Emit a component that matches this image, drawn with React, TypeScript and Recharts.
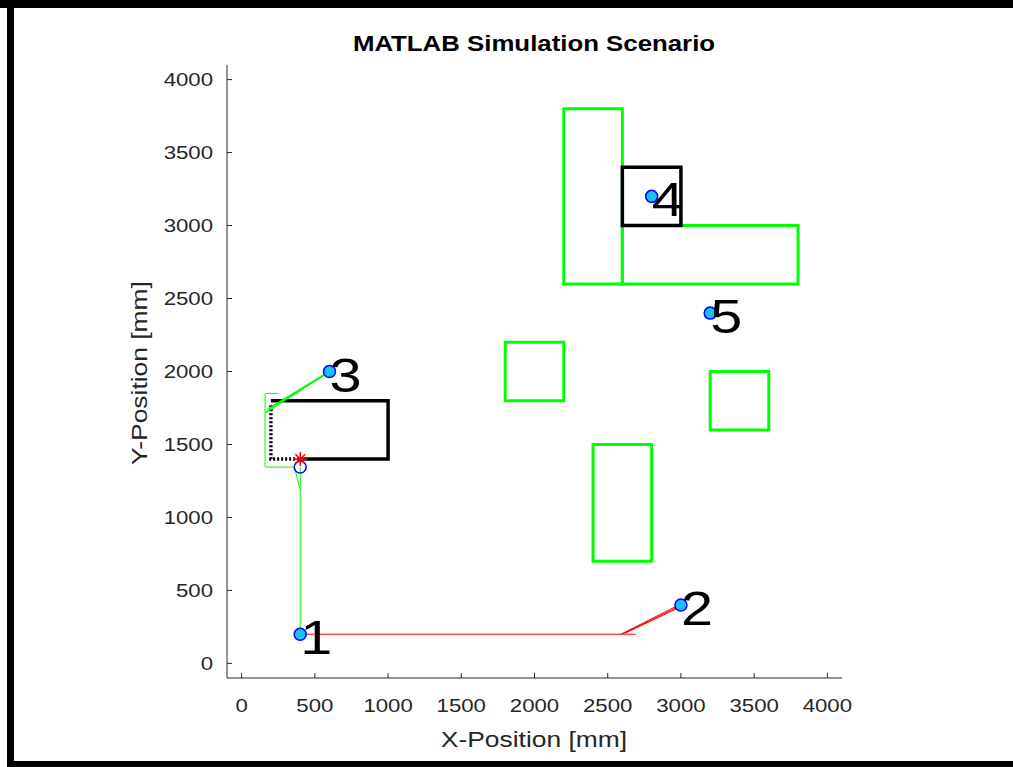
import React from 'react';
import { ComposedChart, XAxis, YAxis, Scatter, ReferenceArea } from 'recharts';

const xTicks = [0, 500, 1000, 1500, 2000, 2500, 3000, 3500, 4000];
const yTicks = [0, 500, 1000, 1500, 2000, 2500, 3000, 3500, 4000];
const axisDomain = [-100, 4100];

const waypoints = [
  { x: 400, y: 200, label: '1' },
  { x: 3000, y: 400, label: '2' },
  { x: 600, y: 2000, label: '3' },
  { x: 2800, y: 3200, label: '4' },
  { x: 3200, y: 2400, label: '5' },
];

const greenObstacles = [
  { x1: 2200, x2: 2600, y1: 2600, y2: 3800 },
  { x1: 2600, x2: 3800, y1: 2600, y2: 3000 },
  { x1: 1800, x2: 2200, y1: 1800, y2: 2200 },
  { x1: 3200, x2: 3600, y1: 1600, y2: 2000 },
  { x1: 2400, x2: 2800, y1: 700, y2: 1500 },
];

const blackObstacles = [{ x1: 2600, x2: 3000, y1: 3000, y2: 3400 }];

const blackRectSolid = [
  { x: 200, y: 1800 },
  { x: 1000, y: 1800 },
  { x: 1000, y: 1400 },
  { x: 420, y: 1400 },
];
const blackRectDotted = [
  { x: 420, y: 1400 },
  { x: 200, y: 1400 },
  { x: 200, y: 1780 },
];

const redMain = [
  { x: 400, y: 200 },
  { x: 2690, y: 200 },
];
const redDiagA = [
  { x: 2590, y: 200 },
  { x: 2975, y: 395 },
];
const redDiagB = [
  { x: 2605, y: 204 },
  { x: 2980, y: 388 },
];
const redDiagC = [
  { x: 2620, y: 208 },
  { x: 2985, y: 381 },
];

const greenPathA = [
  { x: 400, y: 200 },
  { x: 400, y: 1190 },
  { x: 360, y: 1345 },
  { x: 160, y: 1345 },
  { x: 160, y: 1850 },
  { x: 250, y: 1850 },
];
const greenPathB = [
  { x: 400, y: 1190 },
  { x: 400, y: 1345 },
];
const greenPathC = [
  { x: 165, y: 1720 },
  { x: 595, y: 1995 },
];
const greenPathD = [
  { x: 175, y: 1740 },
  { x: 600, y: 2000 },
];

const robotStar = [{ x: 400, y: 1400 }];
const robotCircle = [{ x: 400, y: 1346 }];

const TEXT = '#262626';
const FONT = '"Liberation Sans", Arial, Helvetica, sans-serif';
const GREEN = '#00ff00';
const STRETCH = 1.2;

const Empty = () => <g />;

const XTick = (props: any) => {
  const { x, y, payload } = props;
  return (
    <text
      transform={`translate(${x},${y}) scale(${STRETCH},1)`}
      x={0}
      y={0}
      dy={13.5}
      textAnchor="middle"
      fill={TEXT}
      fontSize={18.5}
      fontFamily={FONT}
    >
      {payload.value}
    </text>
  );
};

const YTick = (props: any) => {
  const { x, y, payload } = props;
  return (
    <text
      transform={`translate(${x},${y}) scale(${STRETCH},1)`}
      x={0}
      y={0}
      dy={6.7}
      textAnchor="end"
      fill={TEXT}
      fontSize={18.5}
      fontFamily={FONT}
    >
      {payload.value}
    </text>
  );
};

const WaypointShape = (props: any) => {
  const { cx, cy, payload } = props;
  return (
    <g>
      <circle cx={cx} cy={cy} r={6} fill="#19c2ff" stroke="#0000ff" strokeWidth={1.5} />
      <text
        transform={`translate(${cx},${cy}) scale(${STRETCH},1)`}
        x={0}
        y={20}
        fill="#000"
        fontSize={48}
        fontFamily={FONT}
      >
        {payload.label}
      </text>
    </g>
  );
};

const StarShape = (props: any) => {
  const { cx, cy } = props;
  const r = 7;
  const d = r * 0.7;
  return (
    <g stroke="#ff0000" strokeWidth={1.5}>
      <line x1={cx - r} y1={cy} x2={cx + r} y2={cy} />
      <line x1={cx} y1={cy - r} x2={cx} y2={cy + r} />
      <line x1={cx - d} y1={cy - d} x2={cx + d} y2={cy + d} />
      <line x1={cx - d} y1={cy + d} x2={cx + d} y2={cy - d} />
    </g>
  );
};

const RingShape = (props: any) => {
  const { cx, cy } = props;
  return <circle cx={cx} cy={cy} r={6} fill="none" stroke="#0000ff" strokeWidth={1.5} />;
};

const lineSeries = (
  key: string,
  data: { x: number; y: number }[],
  stroke: string,
  width: number,
  dash?: string
) => (
  <Scatter
    key={key}
    data={data}
    line={{ stroke, strokeWidth: width, strokeDasharray: dash }}
    lineType="joint"
    shape={Empty}
    fill={stroke}
    isAnimationActive={false}
    legendType="none"
  />
);

export default function App() {
  return (
    <div
      style={{
        position: 'absolute',
        left: 0,
        top: 0,
        width: 1013,
        height: 767,
        background: '#fff',
        overflow: 'hidden',
      }}
    >
      <ComposedChart
        width={1013}
        height={767}
        margin={{ top: 65, right: 171, bottom: 88, left: 226 }}
      >
        <XAxis
          type="number"
          dataKey="x"
          domain={axisDomain}
          ticks={xTicks}
          allowDataOverflow
          height={1}
          tickSize={-5}
          tickMargin={25}
          axisLine={{ stroke: TEXT, strokeWidth: 1 }}
          tickLine={{ stroke: TEXT, strokeWidth: 1 }}
          tick={<XTick />}
          interval={0}
        />
        <YAxis
          type="number"
          dataKey="y"
          domain={axisDomain}
          ticks={yTicks}
          allowDataOverflow
          width={1}
          tickSize={-5}
          tickMargin={19}
          axisLine={{ stroke: TEXT, strokeWidth: 1 }}
          tickLine={{ stroke: TEXT, strokeWidth: 1 }}
          tick={<YTick />}
          interval={0}
        />
        {greenObstacles.map((r, i) => (
          <ReferenceArea
            key={'g' + i}
            x1={r.x1}
            x2={r.x2}
            y1={r.y1}
            y2={r.y2}
            fill="none"
            fillOpacity={0}
            stroke={GREEN}
            strokeWidth={3}
            ifOverflow="visible"
          />
        ))}
        {blackObstacles.map((r, i) => (
          <ReferenceArea
            key={'b' + i}
            x1={r.x1}
            x2={r.x2}
            y1={r.y1}
            y2={r.y2}
            fill="none"
            fillOpacity={0}
            stroke="#000"
            strokeWidth={3.5}
            ifOverflow="visible"
          />
        ))}
        {lineSeries('bs', blackRectSolid, '#000', 3.5)}
        {lineSeries('bd', blackRectDotted, '#000', 3.5, '2 2')}
        {lineSeries('gA', greenPathA, GREEN, 1)}
        {lineSeries('gB', greenPathB, GREEN, 1)}
        {lineSeries('gC', greenPathC, GREEN, 1.5)}
        {lineSeries('gD', greenPathD, GREEN, 1.5)}
        {lineSeries('rM', redMain, '#ff0000', 1)}
        {lineSeries('rA', redDiagA, '#ff0000', 1)}
        {lineSeries('rB', redDiagB, '#ff0000', 1)}
        {lineSeries('rC', redDiagC, '#ff0000', 1)}
        <Scatter data={robotCircle} shape={RingShape} isAnimationActive={false} legendType="none" />
        <Scatter data={robotStar} shape={StarShape} isAnimationActive={false} legendType="none" />
        <Scatter data={waypoints} shape={WaypointShape} isAnimationActive={false} legendType="none" />
      </ComposedChart>

      <div
        style={{
          position: 'absolute',
          left: 234,
          width: 600,
          top: 31,
          textAlign: 'center',
          fontFamily: FONT,
          fontWeight: 'bold',
          fontSize: 21.5,
          lineHeight: '26px',
          color: '#000',
          transform: `scaleX(${STRETCH})`,
        }}
      >
        MATLAB Simulation Scenario
      </div>
      <div
        style={{
          position: 'absolute',
          left: 234,
          width: 600,
          top: 726,
          textAlign: 'center',
          fontFamily: FONT,
          fontSize: 22,
          lineHeight: '28px',
          color: TEXT,
          transform: `scaleX(${STRETCH})`,
        }}
      >
        X-Position [mm]
      </div>
      <div
        style={{
          position: 'absolute',
          left: 140 - 150,
          width: 300,
          top: 373 - 14,
          textAlign: 'center',
          fontFamily: FONT,
          fontSize: 22,
          lineHeight: '28px',
          color: TEXT,
          transform: `rotate(-90deg) scaleX(${STRETCH})`,
        }}
      >
        Y-Position [mm]
      </div>

      <div style={{ position: 'absolute', left: 0, top: 0, width: 1013, height: 8, background: '#000' }} />
      <div style={{ position: 'absolute', left: 7, top: 0, width: 7, height: 767, background: '#000' }} />
      <div style={{ position: 'absolute', left: 7, top: 761, width: 1006, height: 6, background: '#000' }} />
    </div>
  );
}
